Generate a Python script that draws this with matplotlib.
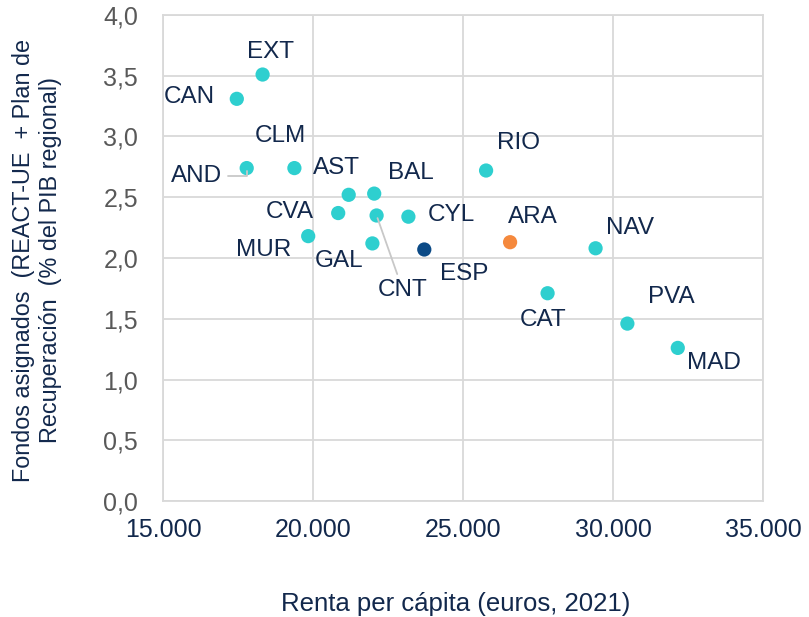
import matplotlib.pyplot as plt

plt.rcParams['font.family'] = ['Liberation Sans', 'DejaVu Sans']

# Renta per cápita (euros, 2021) y fondos asignados (% PIB regional)
regions = ["EXT", "CAN", "AND", "CLM", "AST", "BAL", "CVA", "CNT", "CYL", "MUR",
           "GAL", "ESP", "RIO", "ARA", "NAV", "CAT", "PVA", "MAD"]
renta = [18320, 17460, 17790, 19380, 21190, 22040, 20840, 22120, 23180, 19840,
         21980, 23710, 25770, 26570, 29420, 27820, 30480, 32160]
fondos = [3.51, 3.31, 2.74, 2.74, 2.52, 2.53, 2.37, 2.35, 2.34, 2.18,
          2.12, 2.07, 2.72, 2.13, 2.08, 1.71, 1.46, 1.26]

teal = "#2ecfcf"
special_colors = {"ESP": "#0b4a86", "ARA": "#f5893d"}
text_color = "#12284c"

# label offsets (points) relative to each marker
offsets = {
    "EXT": (6, 16), "CAN": (-34, 1.5), "CLM": (-10, 23), "AND": (-36, -6),
    "AST": (-8.6, 19), "BAL": (26.6, 15), "CVA": (-35, 0.5), "MUR": (-32, -10),
    "GAL": (-24, -13), "CNT": (19, -54), "CYL": (31, 1.5), "ESP": (29, -18),
    "RIO": (23, 20), "ARA": (16.5, 18.5), "NAV": (25, 14.5), "CAT": (-3.5, -19),
    "PVA": (31.5, 19.5), "MAD": (26, -11),
}
leaders = {
    "CNT": "arc3",
    "AND": "angle,angleA=0,angleB=90,rad=0",
}

fig = plt.figure(figsize=(8.09, 6.17), dpi=100)
ax = fig.add_axes([0.2015, 0.188, 0.7416, 0.7877])

colors = [special_colors.get(r, teal) for r in regions]
ax.scatter(renta, fondos, s=105, c=colors, edgecolors="none", zorder=3)

for r, x, y in zip(regions, renta, fondos):
    props = None
    if r in leaders:
        props = dict(arrowstyle="-", color="#c8c8c8", lw=1.3, shrinkA=2, shrinkB=2,
                     connectionstyle=leaders[r])
    ax.annotate(r, (x, y), xytext=offsets[r], textcoords="offset points",
                ha="center", va="center", fontsize=17.5, color=text_color,
                arrowprops=props, zorder=4)

ax.set_xlim(15000, 35000)
ax.set_ylim(0, 4)
ax.set_xticks(range(15000, 35001, 5000))
ax.set_xticklabels([f"{v:,}".replace(",", ".") for v in range(15000, 35001, 5000)])
yt = [i * 0.5 for i in range(9)]
ax.set_yticks(yt)
ax.set_yticklabels([f"{v:.1f}".replace(".", ",") for v in yt])

ax.grid(True, color="#d9d9d9", lw=1.3)
ax.set_axisbelow(True)
for s in ax.spines.values():
    s.set_color("#d9d9d9")
    s.set_linewidth(1.3)
ax.tick_params(length=0, labelsize=18)
ax.tick_params(axis="y", labelcolor="#595959", pad=18)
ax.tick_params(axis="x", labelcolor=text_color, pad=12)

fig.text(0.0457, 0.578, "Fondos asignados  (REACT-UE  + Plan de\nRecuperación  (% del PIB regional)",
         rotation=90, ha="center", va="center", fontsize=16.8, color=text_color,
         linespacing=1.25)
fig.text(0.5637, 0.021, "Renta per cápita (euros, 2021)", ha="center", va="center",
         fontsize=18.5, color=text_color)

fig.savefig("out.png", dpi=100)
